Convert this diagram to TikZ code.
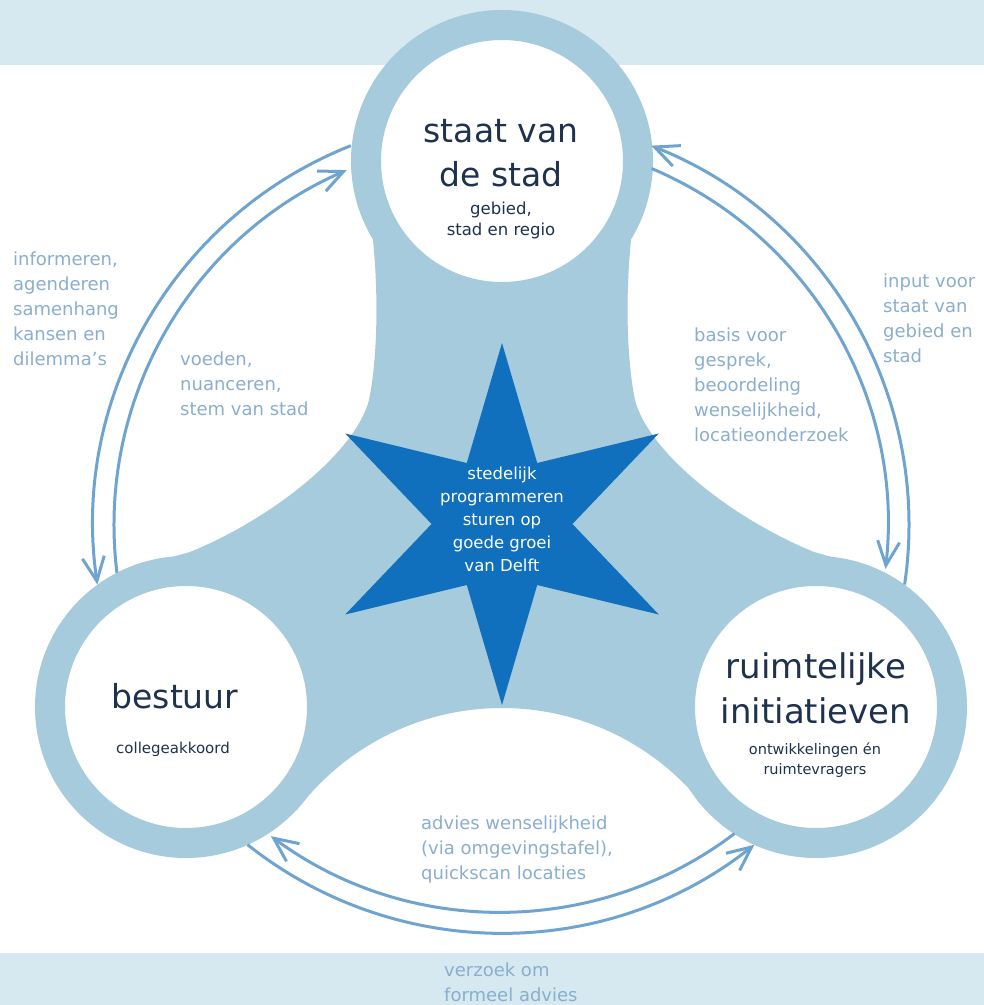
\documentclass[tikz,border=0pt]{standalone}
\usepackage{fontspec}
\setmainfont{DejaVu Sans}
\usetikzlibrary{arrows.meta, shapes.geometric, calc}

\definecolor{bandblue}{RGB}{214,232,240}
\definecolor{ringblue}{RGB}{166,203,220}
\definecolor{starblue}{RGB}{16,112,190}
\definecolor{flowblue}{RGB}{112,164,208}
\definecolor{labelblue}{RGB}{138,174,206}
\definecolor{titleblue}{RGB}{30,50,78}

\begin{document}
\begin{tikzpicture}[x=1pt,y=-1pt,
  ring/.style={circle,fill=white,draw=ringblue,line width=30pt,minimum size=272pt,inner sep=0pt},
  flow/.style={flowblue,line width=3pt,-{Straight Barb[length=24pt,width=22pt]}},
  lbl/.style={labelblue,align=left,inner sep=0pt,anchor=west,font=\fontsize{18}{25}\selectfont},
  ttl/.style={titleblue,align=center,inner sep=0pt,font=\fontsize{33}{44}\selectfont},
  subttl/.style={titleblue,align=center,inner sep=0pt,font=\fontsize{16.5}{21}\selectfont}]
\useasboundingbox (0,0) rectangle (984,1005);

\coordinate (cs) at (502,161);%centres des cercles
\coordinate (cl) at (186,707);
\coordinate (cr) at (816,707);
\coordinate (mid) at (501,525);
\coordinate (dome) at (502,965);

\fill[bandblue] (0,0) rectangle (984,65);%bandes
\fill[bandblue] (0,953) rectangle (984,1005);

% la forme entre les cercles
\fill[ringblue] (cs) -- (373,240) .. controls (378,290) and (378,350) .. (370,395)
  .. controls (362,445) and (280,515) .. (190,552) -- (140,566) -- (cl)
  -- ([shift={(217:257)}]dome) arc[start angle=217,end angle=323,radius=257] -- (cr)
  -- (864,566) -- (814,552) .. controls (724,515) and (642,445) .. (634,395)
  .. controls (626,350) and (626,290) .. (631,240) -- cycle;

\node[ring] (stad) at (cs) {};
\node[ring] (bestuur) at (cl) {};
\node[ring] (init) at (cr) {};

\node[star,star points=6,star point ratio=2.57,minimum size=362pt,inner sep=0pt,fill=starblue] (prog) at (502,524) {};
\node[white,align=center,inner sep=0pt,font=\fontsize{16.5}{23}\selectfont] (progtxt) at (502,519) {stedelijk\\programmeren\\sturen op\\goede groei\\van Delft};

\node[ttl] (stadttl) at (501,153) {staat van\\de stad};
\node[subttl] (stadsub) at (501,220) {gebied,\\stad en regio};
\node[ttl] (bestttl) at (175,696) {bestuur};
\node[subttl,font=\fontsize{15}{20}\selectfont] (bestsub) at (173,749) {collegeakkoord};
\node[ttl,font=\fontsize{34}{45}\selectfont] (initttl) at (816,688) {ruimtelijke\\initiatieven};
\node[subttl,font=\fontsize{14.5}{20}\selectfont] (initsub) at (815,760) {ontwikkelingen én\\ruimtevragers};

% les fleches
\coordinate (a1) at ([shift={(248.4:408)}]mid);
\coordinate (a2) at ([shift={(172.9:387)}]mid);
\coordinate (a3) at ([shift={(8.4:408)}]mid);
\coordinate (a4) at ([shift={(-67.1:387)}]mid);
\coordinate (a5) at ([shift={(128.4:408)}]mid);
\coordinate (a6) at ([shift={(52.9:387)}]mid);
\draw[flow] (a1) arc[start angle=248.4,end angle=171.6,radius=408];
\draw[flow] (a2) arc[start angle=172.9,end angle=246.5,radius=387];
\draw[flow] (a3) arc[start angle=8.4,end angle=-68.4,radius=408];
\draw[flow] (a4) arc[start angle=-67.1,end angle=6.5,radius=387];
\draw[flow] (a5) arc[start angle=128.4,end angle=51.6,radius=408];
\draw[flow] (a6) arc[start angle=52.9,end angle=126.5,radius=387];

\node[lbl] (lb1) at (13,309) {informeren,\\agenderen\\samenhang\\kansen en\\dilemma's};
\node[lbl] (lb2) at (180,384) {voeden,\\nuanceren,\\stem van stad};
\node[lbl] (lb3) at (694,385) {basis voor\\gesprek,\\beoordeling\\wenselijkheid,\\locatieonderzoek};
\node[lbl] (lb4) at (883,318) {input voor\\staat van\\gebied en\\stad};
\node[lbl] (lb5) at (421,850) {advies wenselijkheid\\(via omgevingstafel),\\quickscan locaties};
\node[lbl] (lb6) at (444,982) {verzoek om\\formeel advies};

\end{tikzpicture}
\end{document}
